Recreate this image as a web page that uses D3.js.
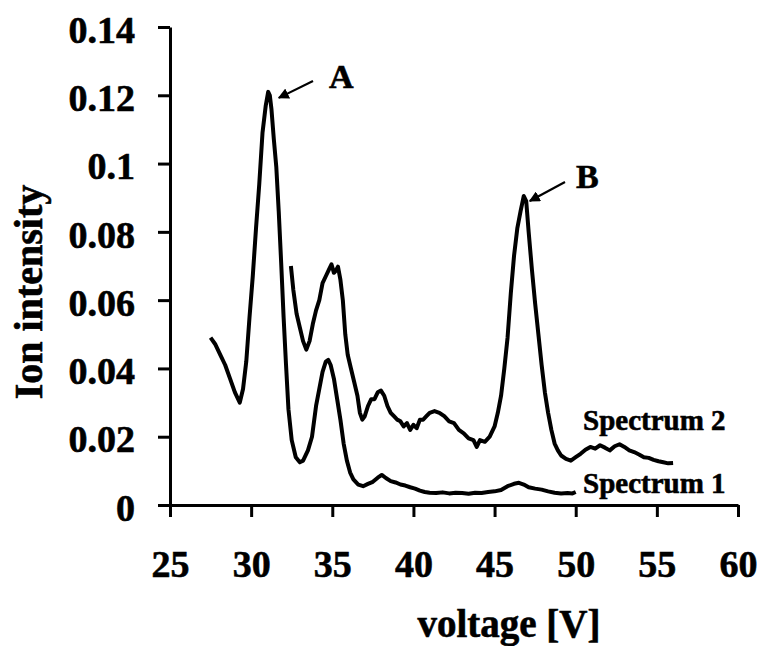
<!DOCTYPE html>
<html>
<head>
<meta charset="utf-8">
<script src="https://cdn.jsdelivr.net/npm/d3@7"></script>
<style>
  body { margin: 0; background: #fff; }
  svg text { font-family: "Liberation Serif", "Times New Roman", serif; font-weight: bold; fill: #000; stroke: #000; stroke-width: 0.6px; }
</style>
</head>
<body>
<svg id="chart" width="760" height="646"></svg>
<script>
// x ticks / y ticks
var xTicks = [25, 30, 35, 40, 45, 50, 55, 60];
var yTicks = [0, 0.02, 0.04, 0.06, 0.08, 0.1, 0.12, 0.14];
var yTickLabels = ['0', '0.02', '0.04', '0.06', '0.08', '0.1', '0.12', '0.14'];

// Spectrum 1 (peak A)
var s1Volt = [27.5, 27.8, 28.1, 28.4, 28.7, 29.0, 29.3, 29.5, 29.7, 29.9, 30.1, 30.3, 30.5, 30.7, 30.9, 31.05, 31.15, 31.25, 31.4, 31.55,
  31.7, 31.85, 32.0, 32.15, 32.3, 32.5, 32.75, 33.0, 33.2, 33.5, 33.75, 34.0, 34.2, 34.4, 34.6, 34.75, 34.9, 35.1, 35.3, 35.5,
  35.7, 35.9, 36.1, 36.3, 36.6, 36.9, 37.2, 37.5, 37.8, 38.05, 38.3, 38.6, 38.9, 39.2, 39.5, 39.8, 40.1, 40.4, 40.7, 41.0,
  41.4, 41.8, 42.2, 42.6, 43.0, 43.4, 43.8, 44.2, 44.6, 45.0, 45.4, 45.8, 46.2, 46.5, 46.8, 47.1, 47.5, 47.9, 48.3, 48.7,
  49.1, 49.5, 49.8, 50.0];
var s1Int = [0.049, 0.047, 0.044, 0.041, 0.037, 0.033, 0.030, 0.034, 0.042, 0.055, 0.067, 0.081, 0.094, 0.109, 0.117, 0.121, 0.120, 0.116, 0.107, 0.099,
  0.086, 0.071, 0.055, 0.041, 0.028, 0.019, 0.014, 0.0125, 0.013, 0.016, 0.020, 0.029, 0.034, 0.039, 0.042, 0.0425, 0.041, 0.037, 0.031, 0.025,
  0.018, 0.013, 0.0095, 0.0075, 0.006, 0.0055, 0.0062, 0.0068, 0.0080, 0.0088, 0.0079, 0.0070, 0.0066, 0.0060, 0.0057, 0.0052, 0.0048, 0.0042, 0.0038, 0.0036,
  0.0035, 0.0037, 0.0034, 0.0036, 0.0035, 0.0033, 0.0036, 0.0035, 0.0038, 0.0040, 0.0044, 0.0055, 0.0062, 0.0065, 0.0060, 0.0052, 0.0048, 0.0045, 0.0040, 0.0036,
  0.0034, 0.0035, 0.0034, 0.0038];

// Spectrum 2 (peak B)
var s2Volt = [32.45, 32.6, 32.8, 33.0, 33.2, 33.4, 33.6, 33.8, 34.0, 34.2, 34.4, 34.6, 34.8, 34.95, 35.1, 35.2, 35.35, 35.5, 35.65, 35.8,
  35.95, 36.15, 36.35, 36.55, 36.7, 36.85, 37.0, 37.2, 37.4, 37.6, 37.8, 38.0, 38.2, 38.4, 38.6, 38.8, 39.0, 39.2, 39.4, 39.6,
  39.8, 40.0, 40.2, 40.4, 40.6, 40.8, 41.0, 41.3, 41.6, 41.9, 42.2, 42.5, 42.8, 43.1, 43.4, 43.7, 43.9, 44.1, 44.4, 44.7,
  45.0, 45.2, 45.4, 45.6, 45.8, 46.0, 46.2, 46.4, 46.6, 46.8, 46.95, 47.1, 47.3, 47.5, 47.7, 47.9, 48.1, 48.3, 48.5, 48.7,
  48.9, 49.1, 49.4, 49.7, 50.0, 50.3, 50.6, 50.9, 51.2, 51.5, 51.8, 52.1, 52.4, 52.7, 53.0, 53.3, 53.6, 53.9, 54.2, 54.5,
  54.8, 55.1, 55.4, 55.7, 56.0];
var s2Int = [0.070, 0.063, 0.056, 0.052, 0.048, 0.0455, 0.048, 0.053, 0.057, 0.060, 0.065, 0.067, 0.069, 0.0705, 0.068, 0.0685, 0.0698, 0.066, 0.060, 0.050,
  0.044, 0.040, 0.036, 0.032, 0.027, 0.025, 0.026, 0.029, 0.031, 0.031, 0.033, 0.0335, 0.032, 0.029, 0.027, 0.026, 0.025, 0.0245, 0.023, 0.024,
  0.022, 0.0235, 0.0225, 0.025, 0.025, 0.026, 0.027, 0.0275, 0.027, 0.026, 0.0245, 0.024, 0.022, 0.021, 0.0195, 0.019, 0.017, 0.019, 0.0185, 0.020,
  0.023, 0.027, 0.032, 0.040, 0.049, 0.062, 0.073, 0.081, 0.086, 0.0905, 0.089, 0.080, 0.069, 0.059, 0.050, 0.041, 0.033, 0.027, 0.022, 0.018,
  0.016, 0.0145, 0.0135, 0.0130, 0.0140, 0.0150, 0.0162, 0.0170, 0.0165, 0.0175, 0.0168, 0.0160, 0.0172, 0.0178, 0.0170, 0.0160, 0.0155, 0.0148, 0.0140, 0.0138,
  0.0132, 0.0128, 0.0125, 0.0122, 0.0123];

var svg = d3.select('#chart');

var x = d3.scaleLinear().domain([25, 60]).range([170, 738]);
var y = d3.scaleLinear().domain([0, 0.14]).range([505, 27]);

// axes
var xAxis = svg.append('g')
  .attr('transform', 'translate(0,' + y(0) + ')')
  .call(d3.axisBottom(x).tickValues(xTicks).tickFormat(d3.format('d')).tickSize(12).tickSizeOuter(0).tickPadding(33));
var yAxis = svg.append('g')
  .attr('transform', 'translate(' + x(25) + ',0)')
  .call(d3.axisLeft(y).tickValues(yTicks).tickFormat(function(d, i) { return yTickLabels[i]; }).tickSize(12).tickSizeOuter(0).tickPadding(23));

svg.selectAll('.domain, .tick line').attr('stroke', '#000').attr('stroke-width', 3);
svg.selectAll('.tick text').attr('font-size', 38).attr('fill', '#000')
  .style('font-family', '"Liberation Serif", "Times New Roman", serif').style('font-weight', 'bold');
yAxis.selectAll('.tick text').attr('dy', '0.4em');

// lines
var line = d3.line().x(function(d) { return x(d[0]); }).y(function(d) { return y(d[1]); });
var spec1 = d3.zip(s1Volt, s1Int);
var spec2 = d3.zip(s2Volt, s2Int);

svg.append('path').datum(spec1).attr('d', line)
  .attr('fill', 'none').attr('stroke', '#000').attr('stroke-width', 4).attr('stroke-linejoin', 'round');
svg.append('path').datum(spec2).attr('d', line)
  .attr('fill', 'none').attr('stroke', '#000').attr('stroke-width', 4).attr('stroke-linejoin', 'round');

// axis titles
svg.append('text')
  .attr('transform', 'translate(42,292) rotate(-90)')
  .attr('text-anchor', 'middle')
  .attr('font-size', 40)
  .text('Ion intensity');
svg.append('text')
  .attr('x', 509).attr('y', 637)
  .attr('text-anchor', 'middle')
  .attr('font-size', 39)
  .text('voltage [V]');

// series labels
svg.append('text').attr('x', 583).attr('y', 430).attr('font-size', 29).text('Spectrum 2');
svg.append('text').attr('x', 583).attr('y', 493).attr('font-size', 29).text('Spectrum 1');

// peak annotations
svg.append('defs').append('marker')
  .attr('id', 'arrow').attr('viewBox', '0 0 10 10')
  .attr('refX', 9).attr('refY', 5)
  .attr('markerWidth', 5).attr('markerHeight', 5)
  .attr('orient', 'auto')
  .append('path').attr('d', 'M0,0 L10,5 L0,10 z').attr('fill', '#000');

svg.append('line')
  .attr('x1', 313).attr('y1', 81).attr('x2', x(31.15) + 9).attr('y2', y(0.121) + 6)
  .attr('stroke', '#000').attr('stroke-width', 2.2).attr('marker-end', 'url(#arrow)');
svg.append('text').attr('x', 329).attr('y', 88).attr('font-size', 34).text('A');

svg.append('line')
  .attr('x1', 565).attr('y1', 182).attr('x2', x(46.8) + 6).attr('y2', y(0.0905) + 5)
  .attr('stroke', '#000').attr('stroke-width', 2.2).attr('marker-end', 'url(#arrow)');
svg.append('text').attr('x', 576).attr('y', 188).attr('font-size', 34).text('B');
</script>
</body>
</html>
